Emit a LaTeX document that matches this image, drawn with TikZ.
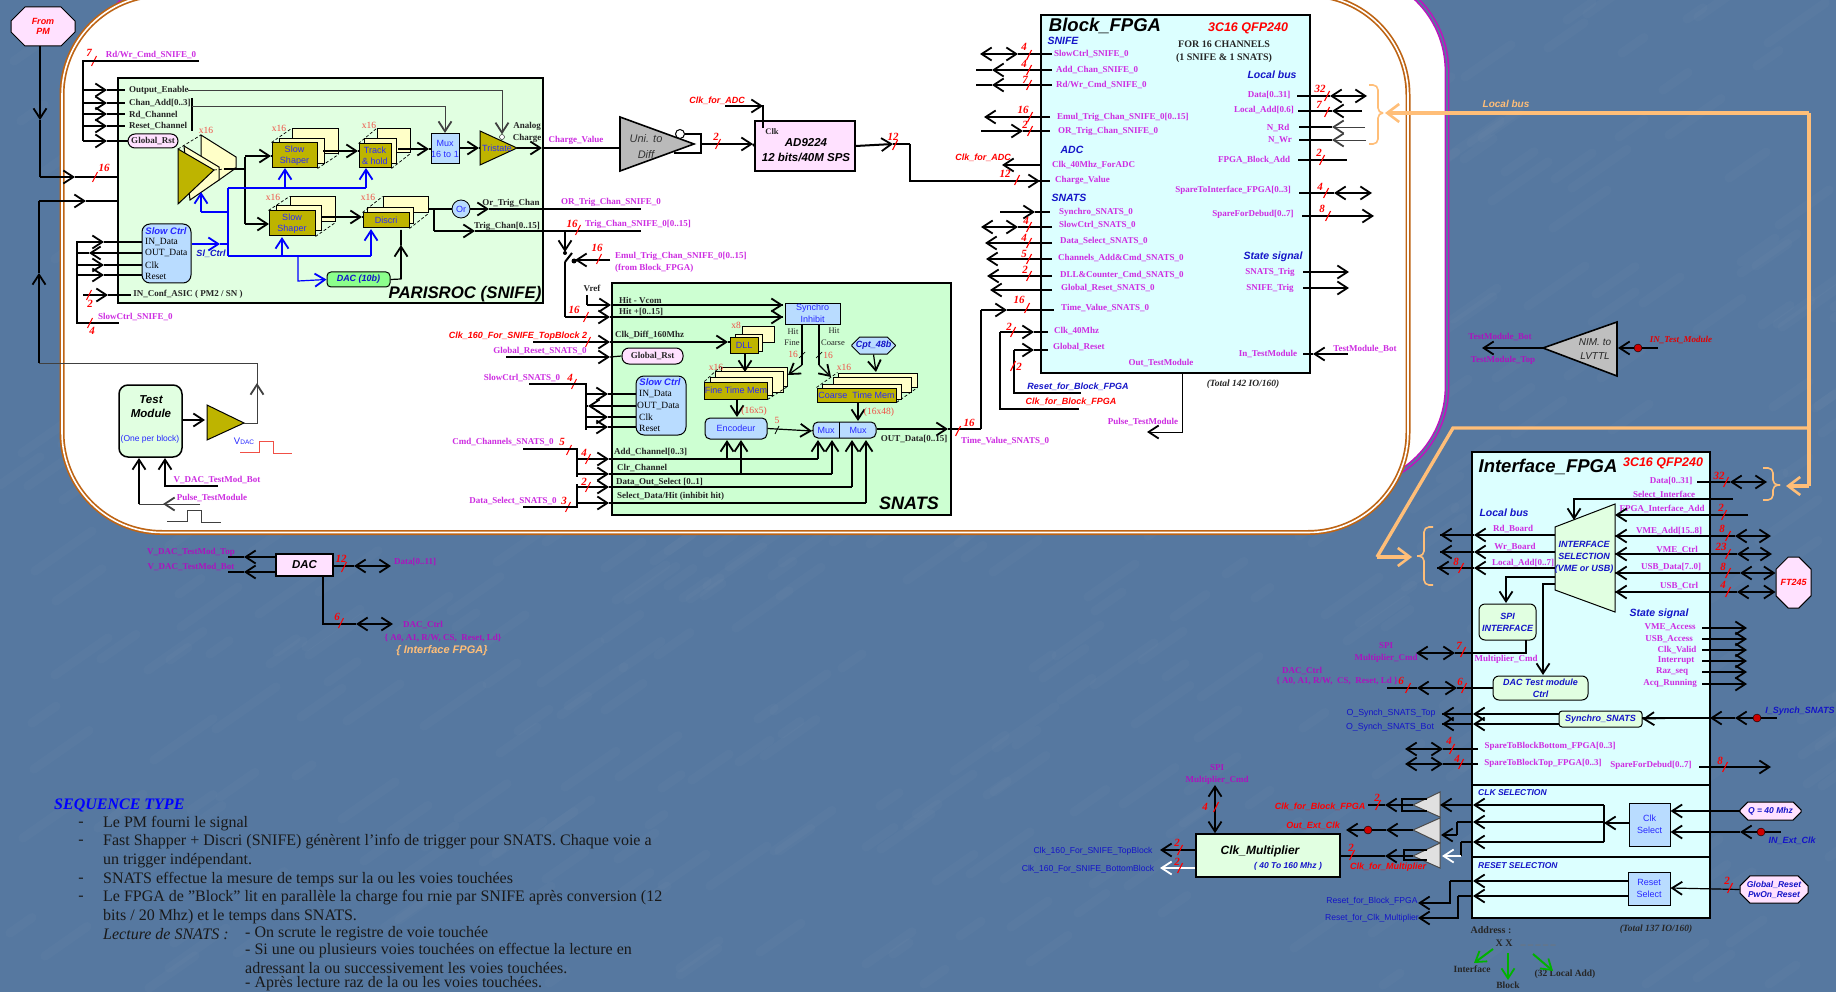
\documentclass[tikz,border=0pt]{standalone}
\usepackage{fontspec}
\setmainfont{Liberation Serif}
\setsansfont{Liberation Sans}
\usetikzlibrary{arrows.meta,shapes.misc}

\definecolor{bgblue}{RGB}{86,120,160}
\definecolor{framemag}{RGB}{190,20,190}
\definecolor{framebrown}{RGB}{190,100,20}
\definecolor{pinkbox}{RGB}{255,225,255}
\definecolor{greenbox}{RGB}{225,255,225}
\definecolor{snatsbox}{RGB}{205,255,210}
\definecolor{cyanbox}{RGB}{220,255,255}
\definecolor{bluebox}{RGB}{185,220,255}
\definecolor{olivebox}{RGB}{190,180,0}
\definecolor{paleyel}{RGB}{255,255,200}
\definecolor{pinmag}{RGB}{205,45,225}
\definecolor{outpurp}{RGB}{170,20,190}
\definecolor{bluelab}{RGB}{20,20,200}
\definecolor{inkblue}{RGB}{40,40,255}
\definecolor{busorange}{RGB}{255,190,120}
\definecolor{salmon}{RGB}{240,80,70}

\tikzset{
  wire/.style={line width=1.2pt},
  bus/.style={line width=2pt},
  thinw/.style={line width=.9pt,draw=black!75},
  bluew/.style={line width=1.2pt,draw=blue},
  sig/.style={font=\fontsize{9}{10}\selectfont\bfseries,align=center,text=black!85},
  pinlab/.style={font=\fontsize{9}{10.5}\selectfont\bfseries,align=center,text=pinmag},
  outlab/.style={font=\fontsize{9}{10.5}\selectfont\bfseries,align=center,text=outpurp},
  tag/.style={font=\fontsize{11}{11}\selectfont\bfseries\itshape,text=red},
  redit/.style={font=\fontsize{9}{10}\selectfont\sffamily\bfseries\itshape,text=red},
  blueit/.style={font=\fontsize{10.5}{12}\selectfont\sffamily\bfseries\itshape,text=bluelab,align=center},
  bluesans/.style={font=\fontsize{8.6}{10}\selectfont\sffamily,text=bluelab},
  x16/.style={font=\fontsize{9.5}{10}\selectfont,text=salmon},
  inktxt/.style={font=\fontsize{9}{11.5}\selectfont\sffamily,text=inkblue,align=center},
  title/.style={font=\fontsize{18.5}{20}\selectfont\sffamily\bfseries\itshape,text=black},
  boxlab/.style={font=\fontsize{9.5}{11}\selectfont},
  bodytxt/.style={font=\fontsize{16}{17}\selectfont,text=black!90},
  olive/.style={draw=black,line width=1pt,fill=olivebox},
  pale/.style={draw=black,line width=1pt,fill=paleyel},
  octa/.style={chamfered rectangle,chamfered rectangle xsep=7pt,chamfered rectangle ysep=7pt,draw=black,line width=1pt},
  orange/.style={line width=3.4pt,draw=busorange},
  bracew/.style={line width=1.6pt,draw=busorange,rounded corners=5pt},
  redslash/.style={draw=red,line width=1.1pt},
  greenarr/.style={line width=2pt,draw=green!70!black},
}

% polyline through named points
\newcommand{\route}[3][]{%
  \foreach \p [count=\i] in {#3}{\coordinate (#2-\i) at (\p); \xdef\routelen{\i}}%
  \draw[wire,#1] (#2-1) \foreach \j in {2,...,\routelen}{-- (#2-\j)};}
% closed outline through named points
\newcommand{\plate}[3][]{%
  \foreach \p [count=\i] in {#3}{\coordinate (#2-\i) at (\p); \xdef\routelen{\i}}%
  \draw[#1] (#2-1) \foreach \j in {2,...,\routelen}{-- (#2-\j)} -- cycle;}
% wire start--end with a head somewhere on it
\newcommand{\tipped}[5][]{%
  \coordinate (#2-a) at (#3); \coordinate (#2-t) at (#4); \coordinate (#2-b) at (#5);
  \draw[wire,#1] (#2-t) -- (#2-b);
  \draw[wire,#1,->] (#2-a) -- (#2-t);}
% wire from a pin ending in two opposite heads
\newcommand{\twoway}[5][]{%
  \coordinate (#2-a) at (#3); \coordinate (#2-n) at (#4); \coordinate (#2-f) at (#5);
  \draw[wire,#1] (#2-a) -- (#2-n);
  \draw[wire,#1,<->] (#2-n) -- (#2-f);}
% bus slash and its width
\newcommand{\busmark}[4]{%
  \coordinate (#1-s) at (#2);
  \draw[redslash] (#1-s) ++(-2.5,5) -- ++(5,-10);
  \node[tag] (#1) at (#3) {#4};}
% box given by its corners
\newcommand{\block}[7][]{%
  \pgfmathsetmacro\bw{#5-#3}\pgfmathsetmacro\bh{#6-#4}%
  \pgfmathsetmacro\bx{(#3+#5)/2}\pgfmathsetmacro\by{(#4+#6)/2}%
  \node[#1,minimum width=\bw pt,minimum height=\bh pt,inner sep=0pt,align=center] (#2) at (\bx,\by) {#7};}
% dashes between the layers of a stack
\newcommand{\stackdash}[2]{%
  \draw[densely dashed,line width=.7pt] (#1.north west) -- (#2.north west);
  \draw[densely dashed,line width=.7pt] (#1.south east) -- (#2.south east);}

\begin{document}
\begin{tikzpicture}[x=1pt,y=-1pt,inner sep=0pt,>={Straight Barb[length=10pt,width=13pt,line width=1.8pt]}]
  \useasboundingbox (0,0) rectangle (1836,992);
  \fill[bgblue] (0,0) rectangle (1836,992);

  % Streaks of the slide background
  \pgfmathsetseed{7}
  \foreach \s in {1,...,500}{
    \pgfmathsetmacro\sx{random(0,1836)}
    \pgfmathsetmacro\sy{random(0,992)}
    \pgfmathsetmacro\sl{random(15,60)}
    \draw[white,opacity=.02,line width=9pt,line cap=round] (\sx,\sy) -- ++(\sl,-0.7*\sl);
  }

  % Frames of the block board
  \draw[fill=white,rounded corners=100pt,draw=framemag,double=bgblue,line width=1.6pt,double distance=1.6pt] (93,-29) rectangle (1447,487);
  \draw[fill=white,rounded corners=100pt,draw=framebrown,double=white,line width=1.7pt,double distance=1.6pt] (62,-5) rectangle (1408,532.5);

  % PM input and test input
  \block[octa,fill=pinkbox,redit,align=center]{frompm}{11}{7}{75}{46}{From\\PM}
  \tipped{pmdn}{40,46}{40,120}{40,177}
  \tipped{pma}{40,177}{75,177}{155,177}
  \tipped{pmb}{75,177}{155,177}{178,177}
  \busmark{pmbus}{95,177}{104,168}{16}
  \tipped{tsta}{39,201}{86,201}{149,201}
  \tipped{tstb}{86,201}{149,201}{161,201}
  \route{tstv}{{161,201},{161,177}}
  \tipped{tstup}{39,363}{39,273}{39,201}
  \node[sig] (pmlab) at (142,165) {PM[0..15]};
  \node[sig] (tstlab) at (142,192) {IN\_Test};

  % SNIFE box
  \block[draw=black,line width=2pt,fill=greenbox]{snife}{118}{78}{543}{303}{}
  \node[title,font=\fontsize{16.8}{17}\selectfont\sffamily\bfseries\itshape] (snifet) at (465,294) {PARISROC (SNIFE)};

  % Read/write command lines
  \node[tag] (rdwrn) at (89,53) {7};
  \draw[redslash] (91.5,66) -- (96.5,56);
  \node[pinlab] (rdwrl) at (151,55) {Rd/Wr\_Cmd\_SNIFE\_0};
  \route[bus]{rdwr}{{199,61},{83,61},{83,141}}
  \tipped{oe}{83,90}{107,90}{125,90}
  \tipped{ca}{83,103}{107,103}{125,103}
  \tipped{rc}{83,114}{107,114}{125,114}
  \tipped{rs}{83,126}{107,126}{125,126}
  \block[draw=black,line width=1pt,rounded corners=7pt,fill=pinkbox,sig]{snrst}{128}{134}{178}{148}{Global\_Rst}
  \tipped{gr}{83,141}{107,141}{snrst.west}
  \node[sig,anchor=west] (oel) at (129,90) {Output\_Enable};
  \node[sig,anchor=west] (cal) at (129,103) {Chan\_Add[0..3]};
  \node[sig,anchor=west] (rcl) at (129,115) {Rd\_Channel};
  \node[sig,anchor=west] (rsl) at (129,126) {Reset\_Channel};
  \route{chbr}{{192,98},{192,131}}

  % Amplifier stack
  \plate[pale]{ampc}{{201,135},{236,157},{236,168},{219,180},{201,190}}
  \plate[pale]{ampb}{{184,146},{219,167},{219,180},{190,200}}
  \plate[olive]{ampa}{{178,149},{178,204},{214,170}}
  \draw[densely dashed,line width=.7pt] (ampa-1) -- (ampc-1);
  \draw[densely dashed,line width=.7pt] (ampa-3) -- (ampc-3);
  \node[x16] (ampx) at (206,130) {x16};
  \route{ampout}{{224,169},{245,169}}
  \route{ampv}{{245,157},{245,224}}
  \tipped{topb}{245,156}{271,156}{272,156}
  \tipped{botb}{245,224}{269,224}{270,224}

  % Upper shaper, track and hold
  \block[pale]{ss1c}{292}{129}{338}{154}{}
  \block[pale]{ss1b}{279}{139}{324}{164}{}
  \block[olive,inktxt]{ss1a}{272}{143}{317}{168}{Slow\\Shaper}
  \stackdash{ss1a}{ss1c}
  \node[x16] (ss1x) at (279,128) {x16};
  \block[pale]{th1c}{377}{129}{410}{153}{}
  \block[pale]{th1b}{364}{139}{396}{164}{}
  \block[olive,inktxt]{th1a}{359}{144}{391}{168}{Track\\\& hold}
  \stackdash{th1a}{th1c}
  \node[x16] (th1x) at (369,125) {x16};
  \tipped{ssth}{323,151}{358,151}{359,151}
  \tipped{thmx}{398,149}{429,149}{431,149}
  \block[draw=black,line width=1pt,fill=bluebox,inktxt]{mux1}{431}{134}{459}{164}{Mux\\16 to 1}
  \plate[olive]{tris}{{480,131},{480,165},{517,148}}
  \node[inktxt] (tristxt) at (497,148) {Tristate};
  \tipped{mxtr}{459,148}{479,148}{480,148}
  \node[circle,draw=black,fill=white,minimum size=5pt] (trisen) at (502,137) {};
  \route[thinw,->]{oeline}{{188,90},{502,90},{trisen.north}}
  \route[thinw,->]{caline}{{192,106},{445,106},{445,133}}
  \node[sig] (anl) at (527,126) {Analog};
  \node[sig] (chl) at (527,138) {Charge};
  \tipped{trout}{517,148}{542,148}{620,148}
  \node[pinlab] (cvl) at (576,140) {Charge\_Value};

  % Lower shaper, discriminator
  \block[pale]{ss2c}{290}{197}{335}{222}{}
  \block[pale]{ss2b}{276}{206}{321}{231}{}
  \block[olive,inktxt]{ss2a}{269}{211}{315}{236}{Slow\\Shaper}
  \stackdash{ss2a}{ss2c}
  \node[x16] (ss2x) at (273,197) {x16};
  \block[pale]{dscc}{383}{197}{428}{213}{}
  \block[pale]{dscb}{367}{208}{413}{224}{}
  \block[olive,inktxt]{dsca}{363}{213}{409}{228}{Discri}
  \stackdash{dsca}{dscc}
  \node[x16] (dscx) at (368,197) {x16};
  \tipped{ssds}{321,217}{362,217}{363,217}
  \node[circle,draw=black,line width=.8pt,fill=bluebox,minimum size=18pt,inktxt] (orgate) at (461,209) {Or};
  \route{dscout}{{428,209},{orgate.west}}
  \tipped{orout}{orgate.east}{489,209}{641,209}
  \node[sig] (orl) at (511,203) {Or\_Trig\_Chan};
  \route{dscv}{{434,209},{434,231}}
  \tipped{trg}{434,231}{475,231}{543,231}
  \route[bus]{trgo}{{543,231},{641,231}}
  \node[sig] (trl) at (507,226) {Trig\_Chan[0..15]};
  \node[pinlab] (ortl) at (611,202) {OR\_Trig\_Chan\_SNIFE\_0};
  \node[pinlab] (trtl) at (638,224) {Trig\_Chan\_SNIFE\_0[0..15]};
  \busmark{trbus}{578,230}{572,224}{16}

  % Slow control of SNIFE
  \block[draw=black,line width=1pt,rounded corners=8pt,fill=bluebox]{sc1}{142}{224}{191}{283}{}
  \node[blueit,font=\fontsize{9.5}{10}\selectfont\sffamily\bfseries\itshape,text=inkblue] (sc1t) at (166,231) {Slow Ctrl};
  \node[boxlab,anchor=west] (sc1a) at (145,242) {IN\_Data};
  \node[boxlab,anchor=west] (sc1b) at (145,253) {OUT\_Data};
  \node[boxlab,anchor=west] (sc1c) at (145,265) {Clk};
  \node[boxlab,anchor=west] (sc1d) at (145,276) {Reset};
  \route{sc1v}{{77,241},{77,323},{119,323}}
  \tipped{sc1e}{77,242}{104,242}{142,242}
  \tipped{sc1f}{142,253}{89,253}{77,253}
  \tipped{sc1g}{77,265}{104,265}{142,265}
  \tipped{sc1h}{77,275}{104,275}{142,275}
  \busmark{sc1bus}{90,323}{92,331}{4}
  \node[pinlab,anchor=west] (sc1l) at (98,317) {SlowCtrl\_SNIFE\_0};
  \tipped{cnf}{83,295}{108,295}{131,295}
  \busmark{cnfbus}{89,295}{90,304}{2}
  \node[sig] (cnfl) at (188,294) {IN\_Conf\_ASIC ( PM2 / SN )};

  % Blue control bus
  \block[draw=black,line width=1pt,rounded corners=4pt,fill=green!45,blueit,font=\fontsize{9}{10}\selectfont\sffamily\bfseries\itshape]{dac10}{327}{272}{390}{287}{DAC (10b)}
  \tipped[bluew]{sl}{192,244}{220,244}{228,244}
  \route[bluew]{slv}{{228,188},{228,256}}
  \route[bluew]{slt}{{228,188},{366,188}}
  \route[bluew]{sla}{{228,212},{201,212}}
  \route[bluew,->]{slb}{{201,212},{201,192}}
  \route[bluew,->]{slc}{{285,188},{285,168}}
  \route[bluew,->]{sld}{{366,188},{366,168}}
  \route[bluew]{sle}{{228,256},{371,256}}
  \route[bluew,->]{slf}{{282,256},{282,237}}
  \route[bluew,->]{slg}{{371,256},{371,229}}
  \route[bluew,->]{slh}{{298,256},{298,281},{dac10.west}}
  \route{dacout}{{dac10.east},{401,279},{401,230}}
  \tipped{dacup}{401,279}{401,245}{401,230}
  \node[blueit,font=\fontsize{9}{10}\selectfont\sffamily\bfseries\itshape] (sllab) at (211,254) {Sl\_Ctrl};

  % Test module
  \block[draw=black,line width=1.5pt,rounded corners=9pt,fill=greenbox]{tmod}{119}{385}{182}{457}{}
  \node[font=\fontsize{11.5}{14}\selectfont\sffamily\bfseries\itshape,align=center] (tmodt) at (151,407) {Test\\Module};
  \node[inktxt,font=\fontsize{8.5}{10}\selectfont\sffamily] (tmodb) at (150,439) {(One per block)};
  \plate[olive]{tampli}{{207,405},{207,440},{244,423}}
  \route[->]{tmamp}{{tmod.east |- 0,420},{205,420}}
  \route[thinw]{vdo}{{244,423},{257,423},{257,363},{39,363}}
  \tipped[thinw]{vdup}{257,423}{257,383}{257,363}
  \node[font=\fontsize{9.5}{10}\selectfont\sffamily,text=inkblue] (vdac) at (244,441) {V{\fontsize{6.5}{7}\selectfont DAC}};
  \route[draw=salmon,line width=1pt]{pulsr}{{240,452},{259,452},{259,441},{273,441},{273,453},{292,453}}
  \route[thinw]{tpa}{{200,504},{139,504}}
  \tipped[thinw]{tpb}{200,504}{163,504}{139,504}
  \route[->]{tpc}{{139,504},{139,458}}
  \route[->]{tpd}{{218,486},{165,486},{165,458}}
  \node[pinlab] (tpl1) at (217,480) {V\_DAC\_TestMod\_Bot};
  \node[pinlab] (tpl2) at (212,498) {Pulse\_TestModule};
  \route[thinw,line width=1pt]{pulsg}{{167,521},{187,521},{187,510},{201,510},{201,522},{221,522}}

  % Uni to diff and ADC
  \plate[draw=black,line width=1.6pt,fill=black!27]{unid}{{620,117},{620,171},{694,144}}
  \node[font=\fontsize{11}{16}\selectfont\sffamily\itshape,align=center,text=black!80] (unidt) at (646,147) {Uni. to\\Diff};
  \node[circle,draw=black,line width=1pt,fill=white,minimum size=9pt] (unidc) at (680,134) {};
  \route{unibr}{{unidc.east},{701,134},{701,153},{674,153}}
  \block[draw=black,line width=1.6pt,fill=pinkbox]{adc}{755}{121}{855}{171}{}
  \node[sig,font=\fontsize{8.5}{10}\selectfont\bfseries] (adcc) at (772,132) {Clk};
  \node[font=\fontsize{11.5}{15}\selectfont\sffamily\bfseries\itshape,align=center] (adct) at (806,150) {AD9224\\12 bits/40M SPS};
  \tipped[bus]{unadc}{701,144}{753,144}{adc.west}
  \busmark{unbus}{718,144}{716,137}{2}
  \node[redit] (ckal) at (717,101) {Clk\_for\_ADC};
  \route{ckaa}{{763,128},{763,106},{725,106}}
  \route[->]{ckab}{{725,106},{763,106}}
  \tipped[bus]{adout}{adc.east}{893,144}{910,144}
  \busmark{adbus}{895,145}{893,137}{12}
  \route[bus]{adroute}{{910,144},{910,181},{1041,181}}

  % Mode switch and SNATS input lines
  \route[bus,->]{swin}{{565,231},{565,252}}
  \node[circle,fill=black,minimum size=4pt] (swa) at (565,253) {};
  \node[circle,fill=black,minimum size=5pt] (swb) at (574,261) {};
  \route[bus]{swblade}{{565,262},{572,253}}
  \tipped[bus]{emub}{610,260}{575,260}{swb.east}
  \busmark{emubus}{599,259}{597,248}{16}
  \node[pinlab,anchor=west] (emul) at (615,256) {Emul\_Trig\_Chan\_SNIFE\_0[0..15]};
  \node[pinlab,anchor=west] (emul2) at (615,268) {(from Block\_FPGA)};
  \route[bus]{swv}{{565,262},{565,317}}
  \node[sig] (vref) at (592,288) {Vref};

  % SNATS box
  \block[draw=black,line width=2pt,fill=snatsbox]{snats}{612}{283}{951}{515}{}
  \node[title,font=\fontsize{18}{18}\selectfont\sffamily\bfseries\itshape] (snatst) at (909,503) {SNATS};
  \route{vrefl}{{587,295},{587,305}}
  \tipped{hv}{587,305}{611,305}{783,305}
  \tipped[bus]{hp}{565,317}{610,317}{783,317}
  \busmark{hpbus}{586,317}{574,310}{16}
  \route[->]{hva}{{750,305},{783,305}}
  \route[->]{hpa}{{750,317},{783,317}}
  \node[sig,anchor=west] (hvl) at (619,300) {Hit - Vcom};
  \node[sig,anchor=west] (hpl) at (619,312) {Hit +[0..15]};
  \block[draw=black,line width=1pt,fill=bluebox,inktxt]{syn}{785}{303}{840}{324}{Synchro\\Inhibit}
  \node[redit] (ck160) at (518,336) {Clk\_160\_For\_SNIFE\_TopBlock 2};
  \tipped{ck160a}{533,342}{610,342}{612,342}
  \draw[redslash] (585.5,347) -- (590.5,337);
  \tipped[bus,line width=1.4pt]{ck160b}{612,342}{728,342}{730,342}
  \node[sig,anchor=west] (ckdl) at (615,335) {Clk\_Diff\_160Mhz};
  \node[pinlab] (grsl) at (540,351) {Global\_Reset\_SNATS\_0};
  \block[draw=black,line width=1pt,rounded corners=7pt,fill=pinkbox,sig]{snrsb}{622}{348}{683}{364}{Global\_Rst}
  \tipped{grs}{506,357}{610,357}{snrsb.west}

  % DLL and time memories
  \block[pale]{dllc}{742}{326}{774}{342}{}
  \block[pale]{dllb}{735}{334}{762}{351}{}
  \block[olive,inktxt]{dlla}{730}{337}{758}{353}{DLL}
  \node[x16] (dllx) at (736,325) {x8};
  \block[pale]{ftd}{721}{367}{787}{386}{}
  \block[pale]{ftc}{715}{371}{783}{392}{}
  \block[pale]{ftb}{710}{377}{772}{395}{}
  \block[olive,inktxt]{fta}{705}{382}{767}{399}{Fine Time Mem}
  \stackdash{fta}{ftd}
  \node[x16] (ftx) at (716,367) {x16};
  \route[->]{dllft}{{745,353},{745,372}}
  \block[draw=black,line width=1pt,rounded corners=5pt,fill=bluebox,inktxt]{enc}{705}{418}{767}{439}{Encodeur}
  \route[->]{ftenc}{{737,399},{737,417}}
  \node[x16] (ftd2) at (754,411) {(16x5)};
  \node[sig,font=\fontsize{8.5}{10}\selectfont] (hit1) at (793,332) {Hit};
  \node[sig,font=\fontsize{8.5}{10}\selectfont] (fine1) at (792,343) {Fine};
  \node[x16] (n16a) at (793,354) {16};
  \route{hfa}{{802,324},{802,365}}
  \route[->]{hfb}{{802,365},{788,375}}
  \draw[line width=.7pt] (799,358) -- (805,352);
  \node[sig,font=\fontsize{8.5}{10}\selectfont] (hit2) at (834,331) {Hit};
  \node[sig,font=\fontsize{8.5}{10}\selectfont] (coars) at (833,343) {Coarse};
  \node[x16] (n16b) at (828,355) {16};
  \route{hca}{{819,324},{819,365}}
  \route[->]{hcb}{{819,365},{831,377}}
  \draw[line width=.7pt] (816,358) -- (822,352);
  \block[octa,chamfered rectangle xsep=4pt,chamfered rectangle ysep=4pt,fill=bluebox,blueit,font=\fontsize{9}{10}\selectfont\sffamily\bfseries\itshape]{cpt}{852}{337}{895}{354}{Cpt\_48b}
  \route[->]{cptc}{{cpt.south},{876,372}}
  \block[pale]{ctd}{838}{373}{917}{387}{}
  \block[pale]{ctc}{833}{377}{911}{392}{}
  \block[pale]{ctb}{822}{384}{901}{399}{}
  \block[olive,inktxt]{cta}{817}{388}{896}{402}{Coarse\ \ Time Mem}
  \stackdash{cta}{ctd}
  \node[x16] (ctx) at (844,367) {x16};
  \route[->]{ctmx}{{858,402},{858,421}}
  \node[x16] (ctd2) at (879,412) {(16x48)};
  \block[draw=black,line width=1pt,rounded corners=5pt,fill=bluebox]{mxs}{813}{422}{876}{438}{}
  \route[line width=1pt]{mxdiv}{{839,422},{839,438}}
  \node[inktxt] (mxl) at (826,430) {Mux};
  \node[inktxt] (mxr) at (858,430) {Mux};
  \tipped{encmx}{enc.east}{812,431}{mxs.west}
  \draw[line width=.7pt] (775,434) -- (779,426);
  \node[x16] (five) at (777,420) {5};

  % Slow control of SNATS
  \block[draw=black,line width=1pt,rounded corners=8pt,fill=bluebox]{sc2}{636}{376}{686}{435}{}
  \node[blueit,font=\fontsize{9.5}{10}\selectfont\sffamily\bfseries\itshape,text=inkblue] (sc2t) at (660,382) {Slow Ctrl};
  \node[boxlab,anchor=west] (sc2a) at (639,394) {IN\_Data};
  \node[boxlab,anchor=west] (sc2b) at (637,406) {OUT\_Data};
  \node[boxlab,anchor=west] (sc2c) at (639,417) {Clk};
  \node[boxlab,anchor=west] (sc2d) at (639,428) {Reset};
  \node[pinlab] (sc2l) at (522,378) {SlowCtrl\_SNATS\_0};
  \busmark{sc2bus}{574,384}{570,378}{4}
  \route[bus]{sc2v}{{529,384},{586,384},{586,430}}
  \tipped{sc2e}{586,394}{608,394}{636,394}
  \tipped{sc2f}{636,406}{588,406}{586,406}
  \tipped{sc2g}{586,417}{608,417}{636,417}
  \tipped{sc2h}{586,427}{608,427}{636,427}

  % Command lines of SNATS
  \node[pinlab] (cmdl) at (503,442) {Cmd\_Channels\_SNATS\_0};
  \busmark{cmdbus}{569,450}{562,442}{5}
  \route[bus]{cmdv}{{523,449},{577,449},{577,477}}
  \node[pinlab] (dsl) at (513,501) {Data\_Select\_SNATS\_0};
  \busmark{dsbus}{568,507}{564,501}{3}
  \route[bus]{dsv}{{523,507},{577,507},{577,484}}
  \tipped{adt}{577,459}{609,459}{818,459}
  \busmark{addbus}{588,459}{584,453}{4}
  \tipped{clt}{577,474}{609,474}{832,474}
  \tipped{dot}{577,487}{609,487}{852,487}
  \busmark{dobus}{588,487}{584,482}{2}
  \tipped{sdt}{577,503}{609,503}{866,503}
  \node[sig,anchor=west] (adl) at (614,452) {Add\_Channel[0..3]};
  \node[sig,anchor=west] (cll) at (617,468) {Clr\_Channel};
  \node[sig,anchor=west] (dol) at (616,482) {Data\_Out\_Select [0..1]};
  \node[sig,anchor=west] (sdl) at (617,496) {Select\_Data/Hit (inhibit hit)};
  \route[->]{upa}{{727,459},{727,440}}
  \route[->]{upb}{{741,474},{741,440}}
  \route[->]{upc}{{818,459},{818,440}}
  \route[->]{upd}{{832,474},{832,440}}
  \route[->]{upe}{{852,487},{852,440}}
  \route[->]{upf}{{866,503},{866,440}}
  \tipped{outd}{mxs.east |- 0,429}{948,429}{981,429}
  \busmark{outbus}{958,431}{969,423}{16}
  \node[sig] (outl) at (914,439) {OUT\_Data[0..15]};
  \node[pinlab,anchor=west] (tvl) at (961,441) {Time\_Value\_SNATS\_0};

  % Block FPGA
  \block[draw=black,line width=2pt,fill=cyanbox]{bfpga}{1041}{15}{1310}{373}{}
  \node[title] (bft) at (1105,26) {Block\_FPGA};
  \node[font=\fontsize{12.5}{13}\selectfont\sffamily\bfseries\itshape,text=red] (bfq) at (1248,28) {3C16 QFP240};
  \node[font=\fontsize{10}{12.5}\selectfont\bfseries,align=center,text=black!85] (bfc) at (1224,52) {FOR 16 CHANNELS\\(1 SNIFE \& 1 SNATS)};
  \node[blueit] (bfa) at (1063,41) {SNIFE};
  \node[blueit] (bfb) at (1272,75) {Local bus};
  \node[blueit] (bfd) at (1072,150) {ADC};
  \node[blueit] (bfe) at (1069,198) {SNATS};
  \node[blueit] (bff) at (1273,257) {State signal};
  \node[font=\fontsize{9.5}{10}\selectfont\bfseries\itshape,text=black!85] (bftot) at (1243,384) {(Total 142 IO/160)};

  \foreach \n/\x/\y/\t in {a/1054/54/SlowCtrl\_SNIFE\_0,b/1056/70/Add\_Chan\_SNIFE\_0,c/1056/85/{Rd/Wr\_Cmd\_SNIFE\_0},d/1057/117/Emul\_Trig\_Chan\_SNIFE\_0[0..15],e/1058/131/OR\_Trig\_Chan\_SNIFE\_0,f/1052/165/Clk\_40Mhz\_ForADC,g/1055/180/Charge\_Value,h/1059/212/Synchro\_SNATS\_0,i/1059/225/SlowCtrl\_SNATS\_0,j/1060/241/Data\_Select\_SNATS\_0,k/1058/258/Channels\_Add\&Cmd\_SNATS\_0,l/1060/275/DLL\&Counter\_Cmd\_SNATS\_0,m/1061/288/Global\_Reset\_SNATS\_0,n/1061/308/Time\_Value\_SNATS\_0,o/1054/331/Clk\_40Mhz,p/1053/347/Global\_Reset}
    {\node[pinlab,anchor=west] (bl\n) at (\x,\y) {\t};}
  \foreach \n/\x/\y/\t in {a/1269/95/Data[0..31],b/1264/110/Local\_Add[0.6],c/1278/128/N\_Rd,d/1280/140/N\_Wr,e/1254/160/FPGA\_Block\_Add,f/1233/190/SpareToInterface\_FPGA[0..3],g/1253/214/SpareForDebud[0..7],h/1270/272/SNATS\_Trig,i/1270/288/SNIFE\_Trig,j/1268/354/In\_TestModule,k/1161/363/Out\_TestModule}
    {\node[pinlab] (br\n) at (\x,\y) {\t};}

  % Block FPGA, left pins
  \twoway[bus]{bla}{1052,54}{1018,54}{980,54}
  \busmark{blab}{1029,55}{1024,47}{4}
  \tipped[bus]{blb}{1052,70}{992,70}{976,70}
  \busmark{blbb}{1029,70}{1024,64}{4}
  \tipped[bus]{blc}{1052,85}{992,85}{976,85}
  \busmark{blcb}{1029,85}{1025,80}{7}
  \tipped[bus]{bld}{1050,117}{984,117}{984,117}
  \busmark{bldb}{1030,117}{1023,110}{16}
  \tipped{ble}{981,131}{1023,131}{1050,131}
  \busmark{bleb}{1030,131}{1025,125}{2}
  \node[redit] (ckal2) at (983,158) {Clk\_for\_ADC};
  \tipped{blf}{1040,165}{1002,165}{1002,165}
  \route[->,bus]{blg}{{1000,181},{1040,181}}
  \busmark{blgb}{1017,180}{1005,174}{12}
  \route[bus]{blg2}{{1041,181},{1050,181}}
  \tipped{blh}{1000,212}{1035,212}{1050,212}
  \twoway[bus]{bli}{1052,227}{1018,227}{981,227}
  \busmark{blib}{1029,227}{1026,221}{4}
  \tipped[bus]{blj}{1052,243}{985,243}{985,243}
  \busmark{bljb}{1029,243}{1024,238}{4}
  \tipped[bus]{blk}{1052,259}{986,259}{986,259}
  \busmark{blkb}{1029,259}{1024,254}{5}
  \tipped[bus]{bll}{1052,276}{987,276}{987,276}
  \busmark{bllb}{1029,276}{1025,270}{2}
  \tipped[bus]{blm}{1052,290}{990,290}{990,290}
  \route[bus]{outv}{{981,429},{981,310}}
  \tipped[bus]{bln}{981,310}{1007,310}{1054,310}
  \busmark{blnb}{1027,308}{1019,300}{16}
  \tipped{blo}{1000,332}{1034,332}{1048,332}
  \route[bus]{blov}{{1000,332},{1000,409},{1079,409}}
  \busmark{blob}{1013,332}{1009,327}{2}
  \tipped{blp}{1014,350}{1034,350}{1048,350}
  \route[bus]{blpv}{{1014,350},{1014,393},{1081,393}}
  \busmark{blpb}{1013,366}{1019,367}{2}
  \node[blueit,font=\fontsize{9}{10}\selectfont\sffamily\bfseries\itshape] (rfb) at (1078,387) {Reset\_for\_Block\_FPGA};
  \node[redit] (cfb) at (1071,402) {Clk\_for\_Block\_FPGA};
  \route[line width=1pt,->]{otm}{{1182,373},{1182,432},{1147,432}}
  \node[pinlab] (otml) at (1143,422) {Pulse\_TestModule};

  % Block FPGA, right pins
  \twoway[bus]{bra}{1297,96}{1330,96}{1367,96}
  \busmark{brab}{1327,96}{1320,89}{32}
  \tipped[bus]{brb}{1362,111}{1332,111}{1298,111}
  \busmark{brbb}{1327,112}{1319,105}{7}
  \tipped[thinw]{brc}{1365,127}{1332,127}{1332,127}
  \route[bus]{brc2}{{1299,127},{1332,127}}
  \tipped[thinw]{brd}{1366,140}{1332,140}{1332,140}
  \route[bus]{brd2}{{1299,140},{1332,140}}
  \route[bus]{bre}{{1298,160},{1347,160}}
  \busmark{breb}{1322,160}{1319,153}{2}
  \twoway[bus]{brf}{1299,193}{1334,193}{1372,193}
  \busmark{brfb}{1326,193}{1320,187}{4}
  \route[bus,->]{brg}{{1302,216},{1374,216}}
  \busmark{brgb}{1328,216}{1322,209}{8}
  \route[->]{brh}{{1303,272},{1349,272}}
  \route[->]{bri}{{1303,288},{1349,288}}
  \tipped{brj}{1348,354}{1313,354}{1303,354}
  \node[pinlab] (brjl) at (1365,349) {TestModule\_Bot};

  % Local bus between the FPGAs
  \route[bracew]{bra1}{{1369,85},{1378,85},{1378,113},{1383,113}}
  \route[bracew]{bra2}{{1369,144},{1378,144},{1378,113},{1383,113}}
  \route[orange,>={Straight Barb[length=12pt,width=18pt,line width=2.6pt]},->]{lbus1}{{1809,113},{1385,113}}
  \route[orange]{lbus2}{{1809,113},{1809,486}}
  \route[orange,>={Straight Barb[length=12pt,width=18pt,line width=2.6pt]},->]{lbus3}{{1809,486},{1786,486}}
  \route[orange]{lbus4}{{1809,428},{1453,428},{1377,557}}
  \route[orange,>={Straight Barb[length=12pt,width=18pt,line width=2.6pt]},->]{lbus5}{{1377,557},{1412,557}}
  \node[font=\fontsize{10}{11}\selectfont\sffamily\bfseries\itshape,text=busorange] (lbusl) at (1506,104) {Local bus};
  \route[bracew]{bra3}{{1433,527},{1424,527},{1424,556},{1417,556}}
  \route[bracew]{bra4}{{1433,585},{1424,585},{1424,556},{1417,556}}
  \route[bracew]{bra5}{{1763,468},{1773,468},{1773,485},{1780,485}}
  \route[bracew]{bra6}{{1763,500},{1773,500},{1773,485},{1780,485}}

  % NIM converter
  \plate[draw=black,line width=1.6pt,fill=black!25]{nim}{{1543,348},{1617,322},{1617,376}}
  \node[font=\fontsize{10}{14}\selectfont\sffamily\itshape,align=center,text=black!85] (nimt) at (1595,349) {NIM. to\\LVTTL};
  \route[->]{nimout}{{1543,348},{1482,348}}
  \node[outlab] (nimb) at (1500,337) {TestModule\_Bot};
  \node[outlab] (nimc) at (1503,360) {TestModule\_Top};
  \tipped{nimin}{1658,348}{1618,348}{1617,348}
  \node[circle,draw=black,fill=red!80!black,minimum size=8pt] (nimd) at (1638,348) {};
  \node[tag,font=\fontsize{9}{10}\selectfont\bfseries\itshape,text=red!90!black] (nimi) at (1681,340) {IN\_Test\_Module};

  % DAC board
  \block[draw=black,line width=1.6pt,fill=pinkbox,font=\fontsize{11.5}{12}\selectfont\sffamily\bfseries\itshape]{dacb}{276}{554}{333}{576}{DAC}
  \tipped{dla}{dacb.west |- 0,557}{244,557}{228,557}
  \tipped{dlb}{dacb.west |- 0,572}{244,572}{228,572}
  \node[outlab] (dlal) at (191,552) {V\_DAC\_TestMod\_Top};
  \node[outlab] (dlbl) at (191,567) {V\_DAC\_TestMod\_Bot};
  \twoway[bus]{dra}{dacb.east |- 0,566}{354,566}{391,566}
  \busmark{drab}{344,567}{341,559}{12}
  \node[outlab] (dral) at (415,562) {Data[0..11]};
  \route[bus]{drb}{{323,576},{323,624},{356,624}}
  \twoway[bus]{drc}{356,624}{356,624}{393,624}
  \busmark{drcb}{341,623}{337,617}{6}
  \node[outlab] (drcl) at (423,625) {DAC\_Ctrl};
  \node[outlab] (drdl) at (443,638) {\{ A0, A1, R/W, CS,\ \ Reset, Ld\}};
  \node[font=\fontsize{11}{12}\selectfont\sffamily\bfseries\itshape,text=busorange] (drel) at (442,651) {\{ Interface FPGA\}};

  % Sequence text
  \node[font=\fontsize{16}{17}\selectfont\itshape\bfseries,text=blue,anchor=west] (seqt) at (54,805) {SEQUENCE TYPE};
  \foreach \n/\y in {a/824,b/842,c/880,d/898}
    {\node[bodytxt] (seqd\n) at (81,\y) {-};}
  \node[bodytxt,anchor=west] (seq1) at (103,824) {Le PM fourni le signal};
  \node[bodytxt,anchor=west] (seq2) at (103,842) {Fast Shapper + Discri (SNIFE) génèrent l’info de trigger pour SNATS. Chaque voie a};
  \node[bodytxt,anchor=west] (seq3) at (103,861) {un trigger indépendant.};
  \node[bodytxt,anchor=west] (seq4) at (103,880) {SNATS effectue la mesure de temps sur la ou les voies touchées};
  \node[bodytxt,anchor=west] (seq5) at (103,898) {Le FPGA de "Block" lit en parallèle la charge fou rnie par SNIFE après conversion (12};
  \node[bodytxt,anchor=west] (seq6) at (103,917) {bits / 20 Mhz) et le temps dans SNATS.};
  \node[bodytxt,anchor=west] (seq7) at (103,934) {\itshape Lecture de SNATS :};
  \node[bodytxt,anchor=west] (seq8) at (245,934) {- On scrute le registre de voie touchée};
  \node[bodytxt,anchor=west] (seq9) at (245,951) {- Si une ou plusieurs voies touchées on effectue la lecture en};
  \node[bodytxt,anchor=west] (seq10) at (245,968) {adressant la ou successivement les voies touchées.};
  \node[bodytxt,anchor=west] (seq11) at (245,984) {- Après lecture raz de la ou les voies touchées.};

  % Interface FPGA
  \block[draw=black,line width=2pt,fill=cyanbox]{ifpga}{1472}{452}{1710}{785}{}
  \block[draw=black,line width=2pt,fill=cyanbox]{ifclk}{1472}{785}{1710}{857}{}
  \block[draw=black,line width=2pt,fill=cyanbox]{ifrst}{1472}{857}{1710}{918}{}
  \node[title] (ift) at (1548,467) {Interface\_FPGA};
  \node[font=\fontsize{12.5}{13}\selectfont\sffamily\bfseries\itshape,text=red] (ifq) at (1663,463) {3C16 QFP240};
  \node[blueit] (ifa) at (1504,513) {Local bus};
  \node[blueit] (ifb) at (1659,614) {State signal};
  \node[font=\fontsize{9.5}{10}\selectfont\bfseries\itshape,text=black!85] (iftot) at (1656,929) {(Total 137 IO/160)};

  \foreach \n/\x/\y/\t in {a/1671/481/Data[0..31],b/1664/495/Select\_Interface,c/1662/509/FPGA\_Interface\_Add,d/1669/531/VME\_Add[15..8],e/1677/550/VME\_Ctrl,f/1671/567/USB\_Data[7..0],g/1679/586/USB\_Ctrl,h/1670/627/VME\_Access,i/1669/639/USB\_Access,j/1677/650/Clk\_Valid,k/1676/661/Interrupt,l/1672/672/Raz\_seq,m/1670/683/Acq\_Running,n/1513/529/Rd\_Board,o/1515/547/Wr\_Board,p/1523/563/Local\_Add[0..7],q/1506/659/Multiplier\_Cmd,r/1550/746/SpareToBlockBottom\_FPGA[0..3],s/1543/763/SpareToBlockTop\_FPGA[0..3],t/1651/765/SpareForDebud[0..7]}
    {\node[pinlab] (ip\n) at (\x,\y) {\t};}

  % Interface selection
  \plate[draw=black,line width=1pt,fill=greenbox]{isel}{{1555,527},{1615,504},{1615,612},{1555,590}}
  \node[blueit,font=\fontsize{9}{12}\selectfont\sffamily\bfseries\itshape] (iselt) at (1584,557) {INTERFACE\\SELECTION\\(VME or USB)};
  \block[octa,chamfered rectangle xsep=9pt,chamfered rectangle ysep=9pt,fill=pinkbox,redit]{ft}{1776}{557}{1811}{608}{FT245}
  \route[->]{ssel}{{1733,499},{1574,499},{1574,520}}
  \twoway[bus]{ipa2}{1697,482}{1730,482}{1767,482}
  \busmark{ipab}{1726,482}{1719,476}{32}
  \tipped[bus]{ipc}{1748,515}{1615,515}{1615,515}
  \busmark{ipcb}{1724,515}{1721,508}{2}
  \twoway[bus]{ipd}{1615,536}{1735,536}{1771,536}
  \route[->,bus]{ipd2}{{1660,536},{1615,536}}
  \busmark{ipdb}{1728,536}{1722,529}{8}
  \twoway[bus]{ipe}{1615,554}{1737,554}{1772,554}
  \route[->,bus]{ipe2}{{1660,554},{1615,554}}
  \busmark{ipeb}{1728,554}{1721,547}{23}
  \twoway[bus]{ipf}{1615,573}{1740,573}{ft.west |- 0,573}
  \route[->,bus]{ipf2}{{1660,573},{1615,573}}
  \busmark{ipfb}{1728,573}{1723,567}{8}
  \twoway[bus]{ipg}{1615,592}{1737,592}{ft.west |- 0,592}
  \route[->,bus]{ipg2}{{1660,592},{1615,592}}
  \busmark{ipgb}{1728,592}{1723,585}{4}

  % Local bus side of the selection
  \tipped{rda}{1555,535}{1474,535}{1440,535}
  \route[->]{rda2}{{1474,535},{1440,535}}
  \tipped{wra}{1555,552}{1474,552}{1440,552}
  \route[->]{wra2}{{1474,552},{1440,552}}
  \tipped{laa}{1555,568}{1474,568}{1437,568}
  \route[->,bus]{laa2}{{1474,568},{1437,568}}
  \busmark{laab}{1461,568}{1456,562}{8}

  % SPI and DAC test boxes
  \block[draw=black,line width=1pt,rounded corners=6pt,fill=greenbox,blueit,font=\fontsize{9}{12}\selectfont\sffamily\bfseries\itshape]{spi}{1479}{604}{1536}{640}{SPI\\INTERFACE}
  \block[draw=black,line width=1pt,rounded corners=6pt,fill=greenbox,blueit,font=\fontsize{9}{12}\selectfont\sffamily\bfseries\itshape]{dts}{1493}{676}{1588}{700}{DAC Test module\\Ctrl}
  \route[->]{tospi}{{1555,577},{1506,577},{1506,603}}
  \route[->]{todts}{{1555,584},{1543,584},{1543,675}}
  \route{spiout}{{1526,640},{1526,653},{1455,653}}
  \twoway[bus,line width=1.6pt]{spiw}{1473,653}{1455,653}{1416,653}
  \busmark{spib}{1463,652}{1459,646}{7}
  \node[outlab] (spil) at (1386,646) {SPI};
  \node[outlab] (spil2) at (1386,658) {Multiplier\_Cmd};
  \route{dtsl}{{dts.west},{1473,688}}
  \route[bus]{dtso}{{1387,688},{1417,688}}
  \route[bus]{dtso3}{{1457,688},{1473,688}}
  \twoway[bus,line width=1.6pt]{dtso2}{1417,688}{1417,688}{1457,688}
  \busmark{dtsb}{1464,688}{1460,682}{6}
  \busmark{dtsc}{1408,688}{1401,681}{6}
  \node[outlab] (dtsl1) at (1302,671) {DAC\_Ctrl};
  \node[outlab] (dtsl2) at (1337,681) {\{ A0, A1, R/W,\ \ CS,\ \ Reset, Ld \}};

  % State signals
  \foreach \n/\y in {a/628,b/639,c/650,d/661,e/672,f/684}
    {\coordinate (sts\n) at (1702,\y); \coordinate (stt\n) at (1747,\y); \draw[wire,->] (sts\n) -- (stt\n);}

  % Synchro SNATS
  \block[draw=black,line width=1pt,rounded corners=3pt,fill=greenbox,blueit,font=\fontsize{9}{10}\selectfont\sffamily\bfseries\itshape]{synb}{1559}{711}{1642}{727}{Synchro\_SNATS}
  \tipped{isy}{1777,718}{1735,718}{1710,718}
  \tipped{isy2}{1735,718}{1710,718}{1642,718}
  \route[->]{isy3}{{1680,718},{synb.east}}
  \node[circle,draw=black,fill=red!80!black,minimum size=8pt] (isyd) at (1757,718) {};
  \node[blueit,font=\fontsize{9}{10}\selectfont\sffamily\bfseries\itshape] (isyl) at (1800,711) {I\_Synch\_SNATS};
  \tipped{osa}{1559,714}{1473,714}{1442,714}
  \route[->]{osa2}{{1473,714},{1442,714}}
  \tipped{osb}{1559,724}{1473,724}{1442,724}
  \route[->]{osb2}{{1473,724},{1442,724}}
  \node[bluesans,font=\fontsize{8.8}{10}\selectfont\sffamily] (osal) at (1391,713) {O\_Synch\_SNATS\_Top};
  \node[bluesans,font=\fontsize{8.8}{10}\selectfont\sffamily] (osbl) at (1390,727) {O\_Synch\_SNATS\_Bot};

  % Spare lines
  \twoway[bus]{spa}{1478,749}{1443,749}{1405,749}
  \busmark{spab}{1452,749}{1449,741}{4}
  \twoway[bus]{spc}{1478,764}{1443,764}{1405,764}
  \busmark{spcb}{1461,764}{1457,759}{4}
  \route[bus,->]{spd}{{1699,767},{1771,767}}
  \busmark{spdb}{1725,767}{1720,761}{8}

  % Clock multiplier
  \block[draw=black,line width=1.6pt,fill=greenbox]{cmul}{1196}{834}{1340}{877}{}
  \node[font=\fontsize{12}{13}\selectfont\sffamily\bfseries\itshape] (cmult) at (1260,851) {Clk\_Multiplier};
  \node[blueit,font=\fontsize{8.5}{10}\selectfont\sffamily\bfseries\itshape] (cmulb) at (1288,866) {( 40 To 160 Mhz )};
  \node[outlab] (cspi) at (1217,768) {SPI};
  \node[outlab] (cspi2) at (1217,780) {Multiplier\_Cmd};
  \coordinate (cmtop) at (1215,785);
  \draw[wire,line width=1.6pt,<->] (cmtop) -- (cmtop |- cmul.north);
  \busmark{cmtb}{1216,807}{1205,807}{4}
  \tipped{cmla}{cmul.west |- 0,850}{1160,850}{1160,850}
  \busmark{cmlb}{1180,850}{1177,843}{2}
  \tipped[draw=white]{cmlc}{cmul.west |- 0,868}{1160,868}{1160,868}
  \busmark{cmld}{1180,868}{1177,862}{2}
  \node[bluesans] (cmle) at (1093,851) {Clk\_160\_For\_SNIFE\_TopBlock};
  \node[bluesans] (cmlf) at (1088,869) {Clk\_160\_For\_SNIFE\_BottomBlock};

  % Clock selection
  \node[blueit,font=\fontsize{8.5}{10}\selectfont\sffamily\bfseries\itshape,anchor=west] (clkt) at (1478,793) {CLK SELECTION};
  \block[draw=black,line width=1pt,fill=bluebox,inktxt]{cks}{1629}{803}{1670}{846}{Clk\\Select}
  \block[octa,chamfered rectangle xsep=4pt,chamfered rectangle ysep=4pt,fill=pinkbox,blueit,font=\fontsize{8.5}{10}\selectfont\sffamily\bfseries\itshape]{q40}{1740}{802}{1801}{820}{Q = 40 Mhz}
  \route[->]{q40a}{{q40.west},{cks.east |- 0,811}}
  \tipped{xck}{1781,832}{1740,832}{1700,832}
  \route[->]{xck3}{{1740,832},{cks.east |- 0,832}}
  \node[circle,draw=black,fill=red!80!black,minimum size=8pt] (xckd) at (1761,832) {};
  \node[blueit,font=\fontsize{9}{10}\selectfont\sffamily\bfseries\itshape] (xckl) at (1792,841) {IN\_Ext\_Clk};
  \route[->]{ckout}{{cks.west |- 0,823},{1604,823}}
  \route{ckv}{{1604,805},{1604,842}}
  \tipped{cka}{1604,805}{1473,805}{1440,805}
  \route[->]{cka2}{{1473,805},{1440,805}}
  \tipped{ckb}{1604,822}{1473,822}{1457,822}
  \route{ckb2}{{1457,822},{1457,835}}
  \route[->]{ckb3}{{1457,835},{1441,835}}
  \tipped{ckc}{1604,842}{1473,842}{1461,842}
  \route{ckc2}{{1461,842},{1461,856}}
  \route[draw=white,->]{ckc3}{{1461,856},{1442,856}}
  \plate[draw=black!70,line width=1pt,fill=black!12]{bf1}{{1440,792},{1440,817},{1413,805}}
  \plate[draw=black!70,line width=1pt,fill=black!12]{bf2}{{1440,818},{1440,843},{1413,830}}
  \plate[draw=black!70,line width=1pt,fill=black!12]{bf3}{{1440,843},{1440,868},{1413,856}}
  \tipped{bfa}{1413,805}{1385,805}{1368,805}
  \route{bfab}{{1427,799},{1402,799},{1402,811},{1427,811}}
  \tipped{bfb}{1413,830}{1386,830}{1368,830}
  \route[->]{bfb2}{{1386,830},{1346,830}}
  \node[circle,draw=black,fill=red!80!black,minimum size=8pt] (bfbd) at (1368,830) {};
  \tipped{bfc}{1413,856}{1385,856}{cmul.east |- 0,856}
  \route{bfcb}{{1427,850},{1404,850},{1404,860},{1427,860}}
  \busmark{bfab2}{1378,805}{1377,798}{2}
  \busmark{bfcb2}{1352,855}{1351,848}{2}
  \node[redit] (cfbl) at (1320,807) {Clk\_for\_Block\_FPGA};
  \node[redit] (oecl) at (1313,826) {Out\_Ext\_Clk};
  \node[redit] (cfml) at (1388,867) {Clk\_for\_Multiplier};

  % Reset selection
  \node[blueit,font=\fontsize{8.5}{10}\selectfont\sffamily\bfseries\itshape,anchor=west] (rstt) at (1478,866) {RESET SELECTION};
  \block[draw=black,line width=1pt,fill=bluebox,inktxt]{rsts}{1628}{872}{1670}{905}{Reset\\Select}
  \block[octa,chamfered rectangle xsep=5pt,chamfered rectangle ysep=5pt,fill=pinkbox,blueit,font=\fontsize{8.5}{10}\selectfont\sffamily\bfseries\itshape]{grs2}{1740}{877}{1808}{902}{Global\_Reset\\PwOn\_Reset}
  \route[->]{rsin}{{grs2.west},{rsts.east |- 0,888}}
  \busmark{rsinb}{1730,888}{1727,881}{2}
  \tipped{rsa}{rsts.west |- 0,881}{1473,881}{1450,881}
  \route[->]{rsa2}{{1450,881},{1450,903},{1418,903}}
  \tipped{rsb}{rsts.west |- 0,896}{1473,896}{1458,896}
  \route[->]{rsb2}{{1458,896},{1458,918},{1418,918}}
  \node[bluesans] (rsal) at (1372,901) {Reset\_for\_Block\_FPGA};
  \node[bluesans] (rsbl) at (1372,918) {Reset\_for\_Clk\_Multiplier};

  % Address
  \node[sig,font=\fontsize{10}{11}\selectfont\bfseries] (adr) at (1491,930) {Address :};
  \node[sig,font=\fontsize{10}{11}\selectfont\bfseries] (adx) at (1504,943) {X X};
  \node[sig,font=\fontsize{10}{11}\selectfont\bfseries,text=black!55] (adu) at (1538,945) {\_ \_ \_ \_ \_};
  \node[sig,font=\fontsize{9.5}{11}\selectfont\bfseries] (adi) at (1472,969) {Interface};
  \node[sig,font=\fontsize{9.5}{11}\selectfont\bfseries] (adblk) at (1508,985) {Block};
  \node[sig,font=\fontsize{9.5}{11}\selectfont\bfseries] (adloc) at (1565,974) {(32 Local Add)};
  \route[greenarr,->]{ada}{{1493,949},{1474,963}}
  \route[greenarr,->]{adc2}{{1508,953},{1508,980}}
  \route[greenarr,->]{add}{{1533,954},{1553,971}}
\end{tikzpicture}
\end{document}
